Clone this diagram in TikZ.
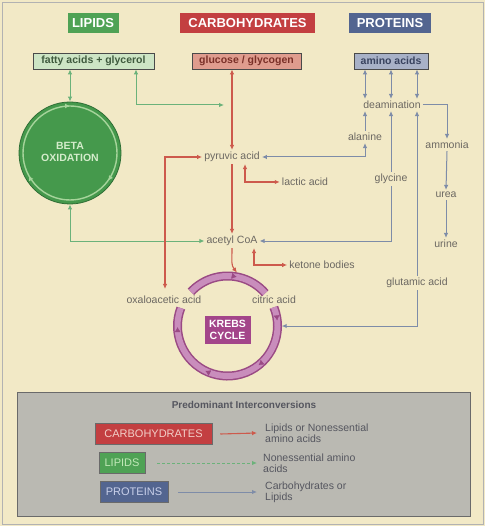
\documentclass[tikz,border=0pt]{standalone}
\usepackage{fontspec}
\setmainfont{Liberation Sans}
\usetikzlibrary{arrows.meta,decorations.markings,calc}
\definecolor{bg}{HTML}{F2E9C6}
\definecolor{hgreen}{HTML}{4FA255}
\definecolor{hred}{HTML}{C33F41}
\definecolor{hblue}{HTML}{536590}
\definecolor{fagreen}{HTML}{CDE5C5}
\definecolor{fatxt}{HTML}{3F5A3E}
\definecolor{glred}{HTML}{DF9C8E}
\definecolor{gltxt}{HTML}{7A3028}
\definecolor{amblue}{HTML}{A8B1C7}
\definecolor{amtxt}{HTML}{38425E}
\definecolor{boxb}{HTML}{4A4A4A}
\definecolor{lgreen}{HTML}{6BB27A}
\definecolor{lred}{HTML}{CD5A4C}
\definecolor{lblue}{HTML}{7E8CA8}
\definecolor{labc}{HTML}{6C6862}
\definecolor{betag}{HTML}{45994C}
\definecolor{betad}{HTML}{2F6E35}
\definecolor{betal}{HTML}{A6D49B}
\definecolor{betat}{HTML}{D4ECCB}
\definecolor{krebs}{HTML}{A3458A}
\definecolor{ringd}{HTML}{9A4A84}
\definecolor{ringl}{HTML}{C98DBC}
\definecolor{legbg}{HTML}{BAB9B2}
\definecolor{legd}{HTML}{6A6A6A}
\definecolor{legt}{HTML}{55565F}
\definecolor{lpink}{HTML}{F2CFC8}
\definecolor{lgrtxt}{HTML}{C2E8B8}
\definecolor{lbtxt}{HTML}{C9D0EA}
\tikzset{
  hdr/.style={text=white, font=\bfseries\fontsize{13}{13}\selectfont, minimum height=20pt, inner xsep=4pt, inner ysep=0pt},
  subbox/.style={draw=boxb, line width=0.8pt, font=\bfseries\fontsize{10.5}{11}\selectfont, minimum height=16pt, inner xsep=3pt, inner ysep=0pt},
  lab/.style={text=labc, font=\fontsize{10.5}{12}\selectfont, inner sep=2pt},
  lhdr/.style={draw=legd, line width=0.5pt, font=\fontsize{11}{11}\selectfont, minimum height=21pt, inner xsep=3pt, inner ysep=0pt},
  legtxt/.style={font=\fontsize{10.5}{11}\selectfont, text=legt, align=left, anchor=west, inner sep=0pt},
  gline/.style={draw=lgreen, line width=1pt},
  rline/.style={draw=lred, line width=1.1pt},
  bline/.style={draw=lblue, line width=1pt},
  ringband/.style={line width=9pt, draw=ringd},
  ringin/.style={line width=6pt, draw=ringl},
}
\begin{document}
\begin{tikzpicture}[x=1pt,y=-1pt,>={Latex[length=5pt,width=4.5pt]}]
\useasboundingbox (0,0) rectangle (485,526);
\fill[bg] (0,0) rectangle (485,526);
\draw[gray!60, line width=0.8pt] (2,2) rectangle (483,524);

% headers
\node[hdr,fill=hgreen,minimum width=51pt] (hL) at (93,23) {LIPIDS};
\node[hdr,fill=hred,minimum width=135pt] (hC) at (247.5,23) {CARBOHYDRATES};
\node[hdr,fill=hblue,minimum width=82pt] (hP) at (390,23) {PROTEINS};

% second row
\node[subbox,fill=fagreen,text=fatxt,minimum width=121pt] (fa) at (93.5,61) {fatty acids + glycerol};
\node[subbox,fill=glred,text=gltxt,minimum width=109pt] (gl) at (246.5,61) {glucose / glycogen};
\node[subbox,fill=amblue,text=amtxt,minimum width=74pt] (am) at (391,61) {amino acids};

% beta oxidation
\node[circle, minimum size=102pt, inner sep=0pt, fill=betag, draw=betad, line width=0.8pt] (beta) at (70,153) {};
\draw[betal, line width=1.4pt, postaction={decorate}, decoration={markings,
   mark=at position 0.1 with {\arrow[betal]{Latex[length=5pt,width=5pt]}},
   mark=at position 0.42 with {\arrow[betal]{Latex[length=5pt,width=5pt]}},
   mark=at position 0.75 with {\arrow[betal]{Latex[length=5pt,width=5pt]}}}]
   (beta.center) circle[radius=47];
\node[text=betat, font=\bfseries\fontsize{10.5}{12}\selectfont, align=center] (betatxt) at (70,152) {BETA\\OXIDATION};

% labels
\node[lab] (pyr) at (232,157) {pyruvic acid};
\node[lab] (lac) at (305,182) {lactic acid};
\node[lab] (ala) at (365,137) {alanine};
\node[lab] (deam) at (392,105) {deamination};
\node[lab] (amm) at (447,145) {ammonia};
\node[lab] (urea) at (446,195) {urea};
\node[lab] (uri) at (446,244) {urine};
\node[lab] (gly) at (391,179) {glycine};
\node[lab] (acoa) at (232,241) {acetyl CoA};
\node[lab] (ket) at (322,265) {ketone bodies};
\node[lab] (glu) at (417,283) {glutamic acid};
\node[lab] (oxa) at (164,300) {oxaloacetic acid};
\node[lab] (cit) at (274,300) {citric acid};

% krebs cycle
\node[circle, minimum size=108pt, inner sep=0pt] (ring) at (227.5,326) {};
\draw[ringband] (ring.center) ++(-137:50) arc[start angle=-137,end angle=-41,radius=50];
\draw[ringin] (ring.center) ++(-137:50) arc[start angle=-137,end angle=-41,radius=50];
\draw[ringband] (ring.center) ++(-22:50) arc[start angle=-22,end angle=201,radius=50];
\draw[ringin] (ring.center) ++(-22:50) arc[start angle=-22,end angle=201,radius=50];
\path[decorate, decoration={markings,
   mark=at position 0.6 with {\arrow[ringd]{Latex[length=5pt,width=6pt]}}}]
   (ring.center) ++(-137:50) arc[start angle=-137,end angle=-41,radius=50];
\path[decorate, decoration={markings,
   mark=at position 0.07 with {\arrow[ringd]{Latex[length=5pt,width=6pt]}},
   mark=at position 0.33 with {\arrow[ringd]{Latex[length=5pt,width=6pt]}},
   mark=at position 0.62 with {\arrow[ringd]{Latex[length=5pt,width=6pt]}},
   mark=at position 0.9 with {\arrow[ringd]{Latex[length=5pt,width=6pt]}}}]
   (ring.center) ++(-22:50) arc[start angle=-22,end angle=201,radius=50];
\node[fill=krebs, text=white, font=\bfseries\fontsize{10.5}{11.5}\selectfont, align=center, minimum width=46pt, minimum height=28pt, inner sep=1pt] (kb) at (227.5,330) {KREBS\\CYCLE};

% green connectors
\draw[gline,<->] (fa.south -| beta.north) -- (beta.north);
\coordinate (gj) at (224,105);
\draw[gline,<->] ([xshift=42.5]fa.south) |- (gj);
\draw[gline,<->] (beta.south) |- (acoa.west);

% red connectors
\draw[rline,<->] (gl.south -| pyr.north) -- (pyr.north);
\draw[rline,->] (pyr.south) -- (acoa.north);
\draw[rline,<->] ([xshift=13]pyr.south) |- (lac.west);
\draw[rline,<->,shorten <=5pt] ([xshift=1]oxa.north) |- (pyr.west);
\draw[rline,<->] ([xshift=22]acoa.south) |- (ket.west);
\draw[rline,->] (acoa.south) .. controls +(0,14) and +(-6,-8) .. (ring.80);

% blue connectors
\foreach \dx in {-26,0,26}
  \draw[bline,<->] ([xshift=\dx]am.south) -- ([xshift=\dx]am.south |- deam.north);
\draw[bline,<->] (ala.south) |- (pyr.east);
\draw[bline,->] (ala.north) -- (ala.north |- deam.south);
\draw[bline,->] (gly.north) -- (gly.north |- deam.south);
\draw[bline,->] (glu.north) -- (glu.north |- deam.south);
\draw[bline,->] (gly.south) |- (acoa.east);
\draw[bline,->] (glu.south) |- (ring.east);
\draw[bline,->] (deam.east) -| (amm.north);
\draw[bline,->] (amm.south) -- (urea.north);
\draw[bline,->] (urea.south) -- (uri.north);

% legend
\node[draw=legd, fill=legbg, line width=0.8pt, minimum width=453pt, minimum height=124pt, inner sep=0pt] (legend) at (243.5,454) {};
\node[font=\bfseries\fontsize{10}{10}\selectfont, text=legt] (lt) at (244,405) {Predominant Interconversions};
\node[lhdr, fill=hred, text=lpink, minimum width=117pt] (lC) at (153.5,434) {CARBOHYDRATES};
\node[lhdr, fill=hgreen, text=lgrtxt, minimum width=46pt] (lL) at (122,463) {LIPIDS};
\node[lhdr, fill=hblue, text=lbtxt, minimum width=68pt] (lP) at (134,492) {PROTEINS};
\node[legtxt] (tC) at (265,433) {Lipids or Nonessential\\amino acids};
\node[legtxt] (tL) at (263,463) {Nonessential amino\\acids};
\node[legtxt] (tP) at (265,492) {Carbohydrates or\\Lipids};
\draw[rline,->] ([xshift=8]lC.east) -- ([xshift=-8]tC.west);
\draw[gline,densely dashed,->] ([xshift=12]lL.east) -- ([xshift=-6]tL.west);
\draw[bline,->] ([xshift=10]lP.east) -- ([xshift=-8]tP.west);
\end{tikzpicture}
\end{document}
